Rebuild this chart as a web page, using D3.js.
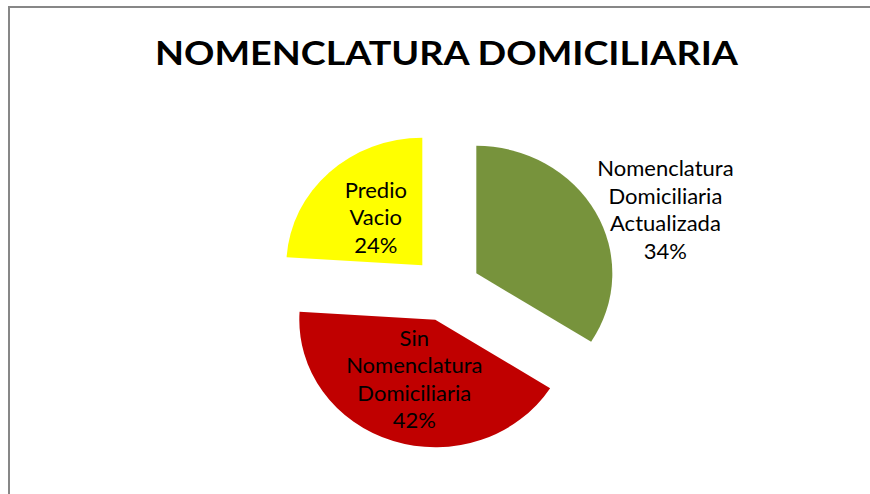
<!DOCTYPE html>
<html>
<head>
<meta charset="utf-8">
<script src="https://cdn.jsdelivr.net/npm/d3@7"></script>
<style>
  body { margin: 0; background: #fff; }
  text { font-family: Lato, "Open Sans", sans-serif; fill: #000; }
</style>
</head>
<body>
<div id="chart"></div>
<script>
// chart data
const title = "NOMENCLATURA DOMICILIARIA";
const categories = ["Nomenclatura Domiciliaria Actualizada", "Sin Nomenclatura Domiciliaria", "Predio Vacio"];
const labelLines = [["Nomenclatura", "Domiciliaria", "Actualizada"], ["Sin", "Nomenclatura", "Domiciliaria"], ["Predio", "Vacio"]];
const values = [34, 42, 24];

let width = 870,
  height = 494,
  rx = 136,
  ry = 127.5,
  explode = 34.6,
  cx = 446,
  cy = 289;

const k = ry / rx;

const svg = d3.select("#chart")
  .append("svg")
  .attr("width", width)
  .attr("height", height)
  .attr("viewBox", [0, 0, width, height]);

// frame (top and left edge visible)
svg.append("path")
  .attr("d", `M9,${height} V7 H${width}`)
  .attr("fill", "none")
  .attr("stroke", "#878787")
  .attr("stroke-width", 2);

svg.append("text")
  .attr("x", 446.5)
  .attr("y", 65)
  .attr("text-anchor", "middle")
  .attr("font-weight", "bold")
  .attr("font-size", 33)
  .attr("textLength", 583)
  .attr("lengthAdjust", "spacingAndGlyphs")
  .text(title);

let color = d3.scaleOrdinal()
  .domain(categories)
  .range(["#77933C", "#C00000", "#FFFF00"]);

let pie = d3.pie().sort(null).value(d => d.value);
let arcs = pie(categories.map((c, i) => ({ name: c, value: values[i], lines: labelLines[i] })));

let arc = d3.arc().innerRadius(0).outerRadius(rx);
let midArc = d3.arc().innerRadius(rx / 2).outerRadius(rx / 2);
let edgeArc = d3.arc().innerRadius(rx + 2).outerRadius(rx + 2);
let shiftArc = d3.arc().innerRadius(explode).outerRadius(explode);

const g = svg.append("g")
  .attr("transform", `translate(${cx},${cy})`);

// slices, squashed vertically to match the tilted look
g.selectAll("path.slice")
  .data(arcs)
  .join("path")
  .attr("class", "slice")
  .attr("fill", d => color(d.data.name))
  .attr("transform", d => {
    const [sx, sy] = shiftArc.centroid(d);
    return `translate(${sx},${sy * k}) scale(1,${k})`;
  })
  .attr("d", arc);

const lineH = 27.5;
const fontSize = 22;

arcs.forEach((d, i) => {
  const [sx, sy] = shiftArc.centroid(d);
  const lines = d.data.lines.concat([d.data.value + "%"]);
  const t = g.append("text")
    .attr("text-anchor", "middle")
    .attr("font-size", fontSize);
  lines.forEach((l, j) => {
    t.append("tspan")
      .attr("x", 0)
      .attr("y", (j - (lines.length - 1) / 2) * lineH + fontSize * 0.3)
      .text(l);
  });
  let px, py;
  if (i === 0) {
    // outside label, box left edge at the slice rim
    const [ex, ey] = edgeArc.centroid(d);
    const w = t.node().getBBox().width;
    px = sx + ex + w / 2;
    py = (sy + ey) * k;
  } else {
    const [mx, my] = midArc.centroid(d);
    px = sx + mx;
    py = (sy + my) * k;
  }
  t.attr("transform", `translate(${px},${py})`);
});
</script>
</body>
</html>
